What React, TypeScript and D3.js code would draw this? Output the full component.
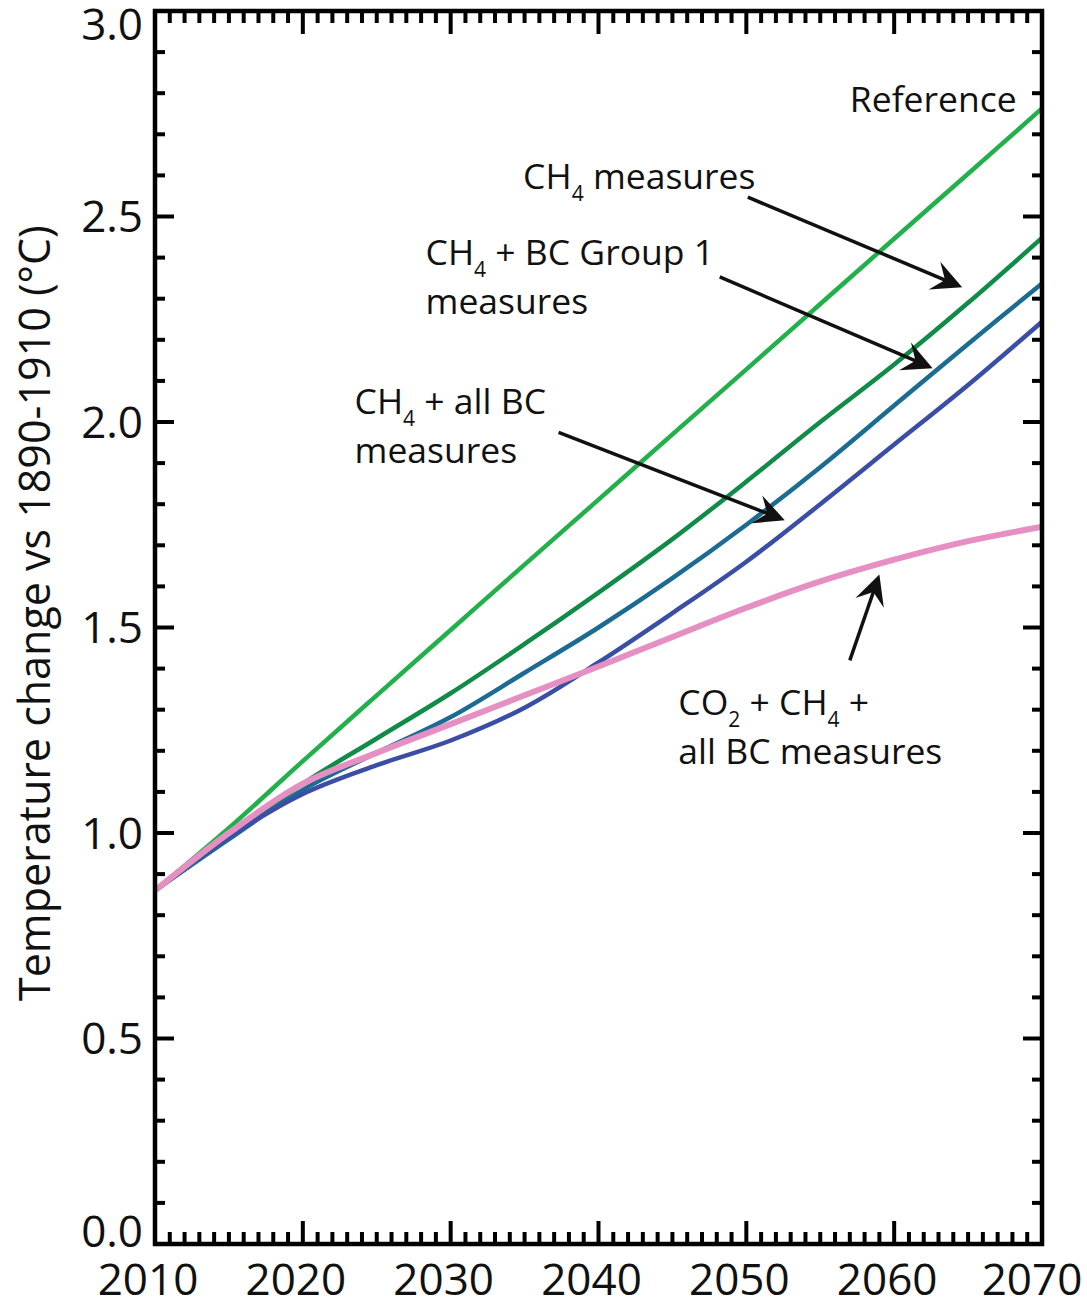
import * as d3 from 'd3';

const years = [2010, 2015, 2020, 2025, 2030, 2035, 2040, 2045, 2050, 2055, 2060, 2065, 2070];
const referenceTemp = [0.86, 1.012, 1.175, 1.335, 1.494, 1.653, 1.811, 1.97, 2.128, 2.287, 2.446, 2.604, 2.763];
const ch4Temp = [0.86, 0.99, 1.12, 1.23, 1.34, 1.46, 1.585, 1.715, 1.855, 2.0, 2.14, 2.29, 2.448];
const ch4Bc1Temp = [0.86, 0.985, 1.105, 1.195, 1.282, 1.39, 1.5, 1.62, 1.75, 1.89, 2.04, 2.19, 2.337];
const ch4AllBcTemp = [0.86, 0.99, 1.095, 1.165, 1.225, 1.305, 1.415, 1.535, 1.66, 1.80, 1.945, 2.09, 2.244];
const co2Ch4BcTemp = [0.86, 1.0, 1.12, 1.195, 1.265, 1.335, 1.405, 1.477, 1.548, 1.612, 1.665, 1.71, 1.745];

const series = [
  { name: 'Reference', values: referenceTemp, color: '#22b04b', width: 4.5 },
  { name: 'CH4 measures', values: ch4Temp, color: '#108b48', width: 4.5 },
  { name: 'CH4 + BC Group 1 measures', values: ch4Bc1Temp, color: '#1b6b93', width: 4.5 },
  { name: 'CH4 + all BC measures', values: ch4AllBcTemp, color: '#3b4ea6', width: 4.5 },
  { name: 'CO2 + CH4 + all BC measures', values: co2Ch4BcTemp, color: '#e58fc2', width: 6 },
];

const xTicks = [2010, 2020, 2030, 2040, 2050, 2060, 2070];
const yTicks = [0, 0.5, 1.0, 1.5, 2.0, 2.5, 3.0];

type Part = { t: string; sub?: boolean };
// label lines, anchored in data units: [year, value] of the first baseline
const labels: { lines: Part[][]; at: number[] }[] = [
  { lines: [[{ t: 'Reference' }]], at: [2057.0, 2.755] },
  { lines: [[{ t: 'CH' }, { t: '4', sub: true }, { t: ' measures' }]], at: [2034.9, 2.568] },
  { lines: [[{ t: 'CH' }, { t: '4', sub: true }, { t: ' + BC Group 1' }], [{ t: 'measures' }]], at: [2028.3, 2.382] },
  { lines: [[{ t: 'CH' }, { t: '4', sub: true }, { t: ' + all BC' }], [{ t: 'measures' }]], at: [2023.5, 2.02] },
  { lines: [[{ t: 'CO' }, { t: '2', sub: true }, { t: ' + CH' }, { t: '4', sub: true }, { t: ' +' }], [{ t: 'all BC measures' }]], at: [2045.4, 1.286] },
];

// arrows: from [year, value] to [year, value]
const arrows = [
  { from: [2050.1, 2.547], to: [2064.6, 2.328] },
  { from: [2048.2, 2.353], to: [2062.6, 2.131] },
  { from: [2037.3, 1.975], to: [2052.6, 1.761] },
  { from: [2057.0, 1.42], to: [2059.0, 1.629] },
];

const W = 1087;
const H = 1300;
const margin = { top: 11, right: 45, bottom: 56, left: 155 };
const font = '"Open Sans", "Noto Sans", sans-serif';

export default function App() {
  const x = d3.scaleLinear().domain([2010, 2070]).range([margin.left, W - margin.right]);
  const y = d3.scaleLinear().domain([0, 3]).range([H - margin.bottom, margin.top]);
  const x0 = x(2010), x1 = x(2070), y0 = y(0), y1 = y(3);

  const line = d3.line<number>()
    .x((_, i) => x(years[i]))
    .y(d => y(d))
    .curve(d3.curveCatmullRom.alpha(0.5));

  const xMinor = d3.range(2010, 2071);
  const yMinor = d3.range(0, 31).map(d => d / 10);

  const arrowHead = (a: { from: number[]; to: number[] }) => {
    const fx = x(a.from[0]), fy = y(a.from[1]);
    const tx = x(a.to[0]), ty = y(a.to[1]);
    const rad = Math.atan2(ty - fy, tx - fx);
    const L = 30, Wd = 30;
    return (
      <g>
        <line x1={fx} y1={fy} x2={tx - 14 * Math.cos(rad)} y2={ty - 14 * Math.sin(rad)}
          stroke="#111" strokeWidth={3.5} />
        <path transform={`translate(${tx},${ty}) rotate(${rad * 180 / Math.PI})`}
          d={`M0,0 L${-L},${-Wd / 2} L${-L * 0.62},0 L${-L},${Wd / 2} Z`} fill="#111" />
      </g>
    );
  };

  const lineGap = 49;

  return (
    <svg width={W} height={H} style={{ position: 'absolute', left: 0, top: 0, background: '#fff' }}>
      {/* curves */}
      {series.map(s => (
        <path key={s.name} d={line(s.values) || ''} fill="none" stroke={s.color}
          strokeWidth={s.width} strokeLinejoin="round" />
      ))}

      {/* arrows */}
      {arrows.map((a, i) => <g key={i}>{arrowHead(a)}</g>)}

      {/* annotation text, one <text> per line */}
      {labels.map((l, i) => l.lines.map((ln, j) => (
        <text key={i + '-' + j} x={x(l.at[0])} y={y(l.at[1]) + j * lineGap}
          fontFamily={font} fontSize={35.5} fill="#111">
          {ln.map((p, k) => p.sub
            ? <tspan key={k} fontSize={21} dy={12}>{p.t}</tspan>
            : <tspan key={k} dy={k > 0 && ln[k - 1].sub ? -12 : undefined}>{p.t}</tspan>)}
        </text>
      )))}

      {/* ticks on x (bottom + top) */}
      {xMinor.map(v => {
        const major = v % 10 === 0;
        const len = major ? 23 : 12;
        return (
          <g key={'x' + v} stroke="#000" strokeWidth={4}>
            <line x1={x(v)} x2={x(v)} y1={y0} y2={y0 - len} />
            <line x1={x(v)} x2={x(v)} y1={y1} y2={y1 + len} />
          </g>
        );
      })}
      {/* ticks on y (left + right) */}
      {yMinor.map(v => {
        const major = Math.round(v * 10) % 5 === 0;
        const len = major ? 19 : 10;
        return (
          <g key={'y' + v} stroke="#000" strokeWidth={4}>
            <line x1={x0} x2={x0 + len} y1={y(v)} y2={y(v)} />
            <line x1={x1} x2={x1 - len} y1={y(v)} y2={y(v)} />
          </g>
        );
      })}

      {/* frame */}
      <rect x={x0} y={y1} width={x1 - x0} height={y0 - y1} fill="none" stroke="#000" strokeWidth={4.5} />

      {/* tick labels */}
      {yTicks.map(v => {
        const yy = Math.min(Math.max(y(v), y1 + 13), y0 - 13);
        return (
          <text key={'yl' + v} x={x0 - 12} y={yy} dy="0.36em" textAnchor="end"
            fontFamily={font} fontSize={44} fill="#111">{v.toFixed(1)}</text>
        );
      })}
      {xTicks.map(v => (
        <text key={'xl' + v} x={Math.min(x(v) - 7, W - 55)} y={y0 + 51} textAnchor="middle"
          fontFamily={font} fontSize={44} fill="#111">{v}</text>
      ))}

      {/* y axis title */}
      <text transform={`translate(50,${y(1.535)}) rotate(-90)`} textAnchor="middle"
        fontFamily={font} fontSize={43} fill="#111">
        Temperature change vs 1890-1910 (°C)
      </text>
    </svg>
  );
}
